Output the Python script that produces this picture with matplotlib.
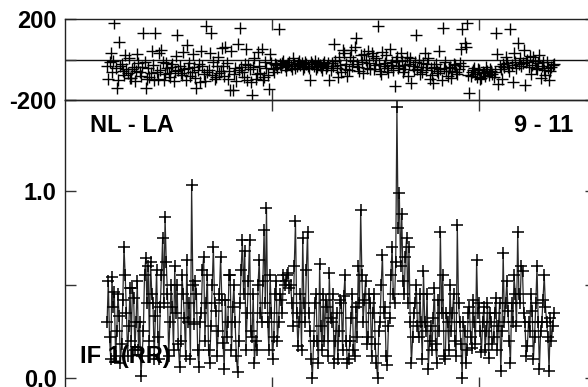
import matplotlib
matplotlib.use("Agg")
import matplotlib.pyplot as plt

# ---------------------------------------------------------------------------
# Data: baseline NL - LA, IF 1 (RR), time in minutes from the plot origin
# ---------------------------------------------------------------------------
time_min = [
    12.2, 12.55, 12.9, 13.25, 13.6, 13.95, 14.3, 14.65, 15.0, 15.35, 15.7, 16.05, 16.4, 16.75, 17.1, 17.45, 17.8, 18.15, 18.5, 18.85,
    19.2, 19.55, 19.9, 20.25, 20.6, 20.95, 21.3, 21.65, 22.0, 22.35, 22.7, 23.05, 23.4, 23.75, 24.1, 24.45, 24.8, 25.15, 25.5, 25.85,
    26.2, 26.55, 26.9, 27.25, 27.6, 27.95, 28.3, 28.65, 29.0, 29.35, 29.7, 30.05, 30.4, 30.75, 31.1, 31.45, 31.8, 32.15, 32.5, 32.85,
    33.2, 33.55, 33.9, 34.25, 34.6, 34.95, 35.3, 35.65, 36.0, 36.35, 36.7, 37.05, 37.4, 37.75, 38.1, 38.45, 38.8, 39.15, 39.5, 39.85,
    40.2, 40.55, 40.9, 41.25, 41.6, 41.95, 42.3, 42.65, 43.0, 43.35, 43.7, 44.05, 44.4, 44.75, 45.1, 45.45, 45.8, 46.15, 46.5, 46.85,
    47.2, 47.55, 47.9, 48.25, 48.6, 48.95, 49.3, 49.65, 50.0, 50.35, 50.7, 51.05, 51.4, 51.75, 52.1, 52.45, 52.8, 53.15, 53.5, 53.85,
    54.2, 54.55, 54.9, 55.25, 55.6, 55.95, 56.3, 56.65, 57.0, 57.35, 57.7, 58.05, 58.4, 58.75, 59.1, 59.45, 59.8, 60.15, 60.5, 60.85,
    61.2, 61.55, 61.9, 62.25, 62.6, 62.95, 63.3, 63.65, 64.0, 64.35, 64.7, 65.05, 65.4, 65.75, 66.1, 66.45, 66.8, 67.15, 67.5, 67.85,
    68.2, 68.55, 68.9, 69.25, 69.6, 69.95, 70.3, 70.65, 71.0, 71.35, 71.7, 72.05, 72.4, 72.75, 73.1, 73.45, 73.8, 74.15, 74.5, 74.85,
    75.2, 75.55, 75.9, 76.25, 76.6, 76.95, 77.3, 77.65, 78.0, 78.35, 78.7, 79.05, 79.4, 79.75, 80.1, 80.45, 80.8, 81.15, 81.5, 81.85,
    82.2, 82.55, 82.9, 83.25, 83.6, 83.95, 84.3, 84.65, 85.0, 85.35, 85.7, 86.05, 86.4, 86.75, 87.1, 87.45, 87.8, 88.15, 88.5, 88.85,
    89.2, 89.55, 89.9, 90.25, 90.6, 90.95, 91.3, 91.65, 92.0, 92.35, 92.7, 93.05, 93.4, 93.75, 94.1, 94.45, 94.8, 95.15, 95.5, 95.85,
    96.2, 96.55, 96.9, 97.25, 97.6, 97.95, 98.3, 98.65, 99.0, 99.35, 99.7, 100.05, 100.4, 100.75, 101.1, 101.45, 101.8, 102.15, 102.5, 102.85,
    103.2, 103.55, 103.9, 104.25, 104.6, 104.95, 105.3, 105.65, 106.0, 106.35, 106.7, 107.05, 107.4, 107.75, 108.1, 108.45, 108.8, 109.15, 109.5, 109.85,
    110.2, 110.55, 110.9, 111.25, 111.6, 111.95, 112.3, 112.65, 113.0, 113.35, 113.7, 114.05, 114.4, 114.75, 115.1, 115.45, 115.8, 116.15, 116.5, 116.85,
    117.2, 117.55, 117.9, 118.25, 118.6, 118.95, 119.3, 119.65, 120.0, 120.35, 120.7, 121.05, 121.4, 121.75, 122.1, 122.45, 122.8, 123.15, 123.5, 123.85,
    124.2, 124.55, 124.9, 125.25, 125.6, 125.95, 126.3, 126.65, 127.0, 127.35, 127.7, 128.05, 128.4, 128.75, 129.1, 129.45, 129.8, 130.15, 130.5, 130.85,
    131.2, 131.55, 131.9, 132.25, 132.6, 132.95, 133.3, 133.65, 134.0, 134.35, 134.7, 135.05, 135.4, 135.75, 136.1, 136.45, 136.8, 137.15, 137.5, 137.85,
    138.2, 138.55, 138.9, 139.25, 139.6, 139.95, 140.3, 140.65, 141.0, 141.35, 141.7,
]

phase_deg = [
    -30, -95, -10, 30, -60, -5, 180, -40, -141, -100, 87, -30, -20, -55, -75, 20, -45, -65, 5, -90,
    -90, -45, -35, -105, -55, 25, -15, -60, -80, -35, 130, -10, -141, -95, -40, -85, -65, 40, -25, -100,
    130, -60, -95, 30, -50, 45, -10, -100, -70, -15, -40, -65, -85, -35, -20, -105, -55, 15, 120, -50,
    -30, -65, -75, 35, -45, -100, 72, -40, -15, -80, -60, 25, -35, -90, -140, -50, -20, -110, 40, -30,
    -70, -105, 165, -60, -50, 30, 130, -75, -10, -95, -85, -30, 10, -65, -55, 55, -30, -80, 60, -15,
    -95, -55, -150, 40, -150, -70, -40, -105, 75, -50, 155, -35, -60, -85, -20, 50, -100, -25, -45, -110,
    -175, -35, 5, -95, -70, 35, -30, -65, 50, -100, -85, -10, -40, -75, -145, 25, -15, -45, -60, -20,
    -25, -40, 150, -20, -35, -15, -5, -30, -50, -25, -20, -10, -30, -45, 5, -20, -40, -30, -15, -5,
    -25, -15, -45, -35, -10, -20, -30, -40, -101, -10, -20, -30, -5, -45, -35, -15, -25, -35, -50, -20,
    -10, -40, -30, -15, -101, -50, -15, -30, 75, -5, -40, -85, 10, -25, -60, 45, 30, -45, -20, -80,
    -50, 10, 45, -30, -5, 60, 105, -20, -35, -55, 20, -10, -65, 25, 0, -40, 40, -15, -45, 30,
    15, -45, -25, 5, 165, -20, -55, -70, 35, -30, -15, 20, -40, -60, 50, -25, -10, -50, -130, -5,
    10, -40, -30, 30, -5, -60, -45, -25, 12, -80, -20, 5, -118, -30, -50, -10, 120, -45, 0, -70,
    -35, -60, -15, 30, -52, -20, 5, -95, -40, -75, -118, -35, -20, -55, -65, 40, -45, -100, 155, -40,
    -10, -55, -80, -40, -35, -90, -55, -20, -25, -60, -70, -45, -15, 50, 150, -30, 81, 60, 180, -75,
    -166, -80, -60, -50, -40, -70, -85, -45, -50, -95, -91, -60, -65, -80, -37, -55, -75, -45, -55, -70,
    -85, -60, 130, 25, -123, -30, -45, -95, -20, -35, 10, -15, -35, -55, 150, -25, -113, 30, -10, -40,
    80, -20, 5, -30, -15, 45, -125, -10, 0, -35, 15, -70, -25, 10, -5, -40, -45, -15, 20, -90,
    -30, -10, -50, -75, -10, -40, -100, -55, -35, -25, -20,
]

amplitude = [
    0.30, 0.52, 0.22, 0.10, 0.54, 0.38, 0.46, 0.12, 0.25, 0.45, 0.33, 0.08, 0.18, 0.42, 0.70, 0.55, 0.35, 0.12, 0.28, 0.48,
    0.20, 0.48, 0.43, 0.15, 0.30, 0.52, 0.15, 0.30, 0.01, 0.12, 0.25, 0.55, 0.64, 0.40, 0.60, 0.20, 0.62, 0.45, 0.40, 0.10,
    0.33, 0.58, 0.22, 0.10, 0.38, 0.55, 0.75, 0.40, 0.86, 0.62, 0.45, 0.12, 0.30, 0.50, 0.38, 0.15, 0.60, 0.35, 0.50, 0.18,
    0.06, 0.20, 0.55, 0.45, 0.32, 0.12, 0.63, 0.30, 0.40, 0.10, 1.03, 0.50, 0.29, 0.52, 0.45, 0.15, 0.06, 0.30, 0.35, 0.58,
    0.65, 0.20, 0.40, 0.55, 0.15, 0.08, 0.28, 0.50, 0.70, 0.40, 0.36, 0.12, 0.25, 0.45, 0.65, 0.42, 0.19, 0.05, 0.42, 0.22,
    0.30, 0.55, 0.55, 0.15, 0.38, 0.50, 0.30, 0.12, 0.03, 0.20, 0.40, 0.58, 0.74, 0.45, 0.68, 0.15, 0.35, 0.52, 0.74, 0.25,
    0.22, 0.45, 0.08, 0.20, 0.15, 0.50, 0.63, 0.35, 0.30, 0.52, 0.79, 0.40, 0.91, 0.30, 0.15, 0.55, 0.35, 0.10, 0.22, 0.45,
    0.52, 0.20, 0.30, 0.45, 0.42, 0.35, 0.55, 0.50, 0.52, 0.55, 0.56, 0.48, 0.50, 0.40, 0.28, 0.60, 0.84, 0.35, 0.17, 0.30,
    0.45, 0.15, 0.75, 0.40, 0.30, 0.58, 0.78, 0.35, 0.25, 0.10, 0.00, 0.20, 0.40, 0.45, 0.20, 0.08, 0.61, 0.28, 0.15, 0.45,
    0.20, 0.42, 0.38, 0.12, 0.56, 0.32, 0.30, 0.45, 0.08, 0.20, 0.35, 0.10, 0.25, 0.42, 0.40, 0.15, 0.44, 0.55, 0.20, 0.08,
    0.10, 0.20, 0.32, 0.45, 0.15, 0.12, 0.38, 0.22, 0.60, 0.40, 0.90, 0.55, 0.30, 0.42, 0.52, 0.18, 0.22, 0.45, 0.40, 0.12,
    0.35, 0.45, 0.18, 0.08, 0.00, 0.25, 0.30, 0.50, 0.66, 0.35, 0.38, 0.12, 0.07, 0.28, 0.32, 0.55, 0.70, 0.45, 0.40, 0.62,
    1.45, 0.80, 0.99, 0.60, 0.88, 0.52, 0.45, 0.65, 0.75, 0.40, 0.70, 0.30, 0.08, 0.22, 0.35, 0.40, 0.50, 0.28, 0.22, 0.45,
    0.30, 0.10, 0.57, 0.30, 0.25, 0.45, 0.05, 0.20, 0.28, 0.15, 0.32, 0.48, 0.18, 0.08, 0.42, 0.25, 0.78, 0.35, 0.55, 0.12,
    0.10, 0.35, 0.30, 0.15, 0.50, 0.25, 0.35, 0.45, 0.20, 0.12, 0.82, 0.40, 0.30, 0.18, 0.00, 0.30, 0.25, 0.08, 0.15, 0.35,
    0.38, 0.22, 0.16, 0.42, 0.30, 0.18, 0.63, 0.35, 0.40, 0.25, 0.14, 0.30, 0.38, 0.15, 0.25, 0.40, 0.11, 0.35, 0.30, 0.18,
    0.22, 0.35, 0.43, 0.15, 0.28, 0.40, 0.04, 0.25, 0.67, 0.30, 0.40, 0.52, 0.36, 0.20, 0.08, 0.40, 0.30, 0.55, 0.45, 0.28,
    0.78, 0.45, 0.40, 0.60, 0.57, 0.35, 0.30, 0.12, 0.17, 0.30, 0.25, 0.45, 0.36, 0.10, 0.22, 0.40, 0.60, 0.30, 0.05, 0.25,
    0.30, 0.42, 0.55, 0.38, 0.30, 0.22, 0.04, 0.32, 0.20, 0.28, 0.35,
]

x_ticks = [60, 120]
phase_ticks = [-200, 0, 200]
phase_labels = ["-200", "", "200"]
amp_ticks = [0.0, 0.5, 1.0]
amp_labels = ["0.0", "", "1.0"]

# ---------------------------------------------------------------------------
# Figure
# ---------------------------------------------------------------------------
plt.rcParams["font.family"] = ["Liberation Sans", "DejaVu Sans"]
plt.rcParams["font.weight"] = "bold"

W, H = 588, 387
FS = 17
fig = plt.figure(figsize=(W / 100, H / 100), dpi=100)


def px_box(left, top, right, bottom):
    """Pixel box -> figure fraction [l, b, w, h]."""
    return [left / W, 1 - bottom / H, (right - left) / W, (bottom - top) / H]


ax_ph = fig.add_axes(px_box(65, 19, 596, 100))
ax_amp = fig.add_axes(px_box(65, 100, 596, 388))

for ax in (ax_ph, ax_amp):
    ax.set_xlim(0, 153.9)
    ax.set_xticks(x_ticks)
    ax.set_xticklabels([])
    ax.tick_params(direction="in", length=8, width=1, top=True, right=True,
                   labelsize=FS, pad=6, color="#333333")
    for sp in ax.spines.values():
        sp.set_linewidth(1.0)
        sp.set_color("#222222")
    ax.patch.set_alpha(0)

# phase panel
ax_ph.axhline(0, color="#111111", lw=1.0, zorder=1)
ax_ph.plot(time_min, phase_deg, ls="none", marker="+", ms=9, mew=1.0,
           color="black", zorder=2)
ax_ph.set_ylim(-200, 200)
ax_ph.set_yticks(phase_ticks)
ax_ph.set_yticklabels(phase_labels, fontweight="bold")

# amplitude panel
ax_amp.plot(time_min, amplitude, color="#2a2a2a", lw=0.9, marker="+", ms=9,
            mew=1.1, mec="black", zorder=2)
ax_amp.set_ylim(-0.053, 1.487)
ax_amp.set_yticks(amp_ticks)
ax_amp.set_yticklabels(amp_labels, fontweight="bold")

# labels
fig.text(90 / W, 1 - 125 / H, "NL - LA", fontsize=FS, fontweight="bold",
         va="center", ha="left")
fig.text(573 / W, 1 - 125 / H, "9 - 11", fontsize=FS, fontweight="bold",
         va="center", ha="right")
fig.text(80 / W, 1 - 357 / H, "IF 1(RR)", fontsize=FS, fontweight="bold",
         va="center", ha="left", zorder=5)

fig.savefig("out.png", dpi=100)
